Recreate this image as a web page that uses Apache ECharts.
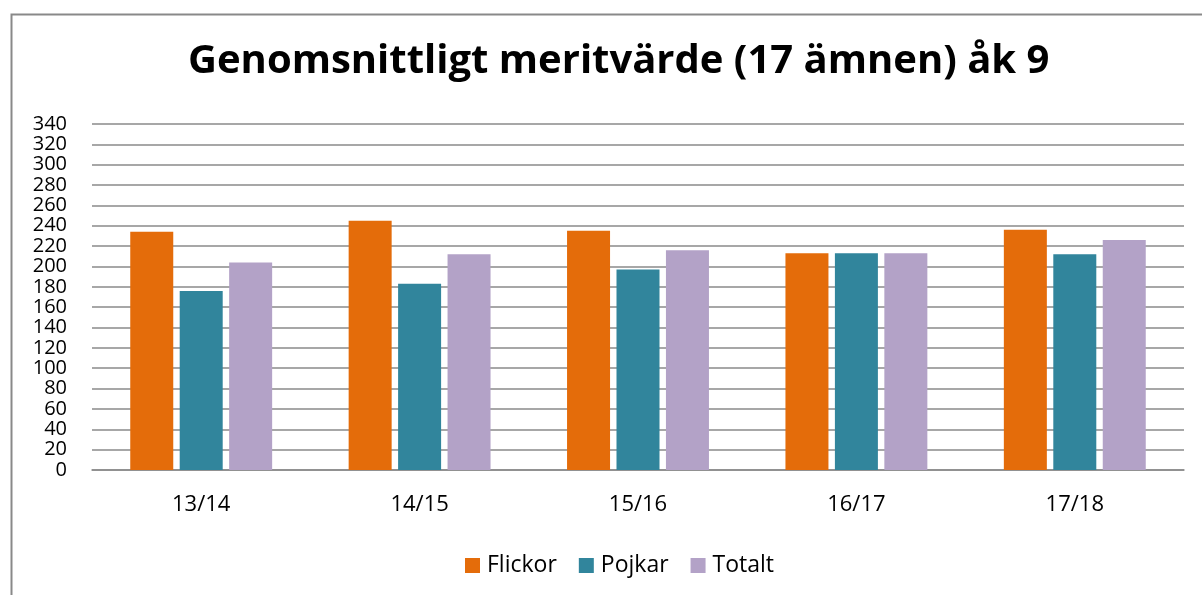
<!DOCTYPE html>
<html>
<head>
<meta charset="utf-8">
<script src="https://cdn.jsdelivr.net/npm/echarts@6/dist/echarts.min.js"></script>
<style>
html,body{margin:0;padding:0;background:#fff;}
#c{width:1202px;height:595px;}
</style>
</head>
<body>
<div id="c"></div>
<script>
const categories = ['13/14', '14/15', '15/16', '16/17', '17/18'];
const flickor = [234, 245, 235, 213, 236];
const pojkar = [176, 183, 197, 213, 212];
const totalt = [204, 212, 216, 213, 226];
const seriesNames = ['Flickor', 'Pojkar', 'Totalt'];
const colors = ['#E46C0A', '#31859C', '#B3A2C7'];

const chart = echarts.init(document.getElementById('c'), null, {renderer: 'canvas'});
const font = '"Open Sans", "Noto Sans", sans-serif';
const mk = (name, data, color) => ({
  name, type: 'bar', data, barWidth: 43, barGap: '15%',
  itemStyle: {color}, animation: false
});
chart.setOption({
  animation: false,
  textStyle: {fontFamily: font},
  title: {
    text: 'Genomsnittligt meritvärde (17 ämnen) åk 9',
    left: 183, top: 37,
    textStyle: {fontFamily: font, fontWeight: 'bold', fontSize: 40, color: '#000'}
  },
  graphic: [{
    type: 'rect', left: 9, top: 12, silent: true,
    shape: {width: 1200, height: 600},
    style: {fill: 'none', stroke: '#898989', lineWidth: 2}
  }],
  legend: {
    data: seriesNames, left: 460, top: 549,
    itemWidth: 15, itemHeight: 15, itemGap: 22,
    icon: 'rect',
    textStyle: {fontFamily: font, fontSize: 23, color: '#000', padding: [0,0,0,2]}
  },
  grid: {left: 92, right: 18, top: 124, bottom: 125, containLabel: false},
  xAxis: {
    type: 'category', data: categories,
    axisLine: {lineStyle: {color: '#8a8a8a', width: 1.5}},
    axisTick: {show: false},
    axisLabel: {fontFamily: font, fontSize: 22, color: '#000', margin: 24}
  },
  yAxis: {
    type: 'value', min: 0, max: 340, interval: 20,
    axisLine: {show: false}, axisTick: {show: false},
    splitLine: {lineStyle: {color: '#8a8a8a', width: 1.5}},
    axisLabel: {fontFamily: font, fontSize: 20, color: '#000', margin: 25, lineHeight: 18,
      showMinLabel: true, showMaxLabel: true, hideOverlap: false}
  },
  series: [
    mk(seriesNames[0], flickor, colors[0]),
    mk(seriesNames[1], pojkar, colors[1]),
    mk(seriesNames[2], totalt, colors[2])
  ]
});
</script>
</body>
</html>
